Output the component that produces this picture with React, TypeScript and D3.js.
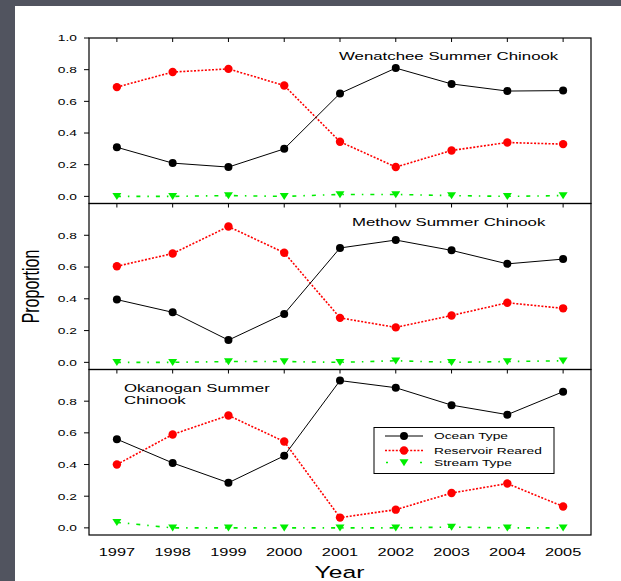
import React from "react";
import * as d3 from "d3";

const years = [1997, 1998, 1999, 2000, 2001, 2002, 2003, 2004, 2005];

const wenOcean = [0.31, 0.21, 0.185, 0.3, 0.65, 0.81, 0.71, 0.665, 0.668];
const wenReservoir = [0.69, 0.785, 0.805, 0.7, 0.345, 0.185, 0.29, 0.34, 0.33];
const wenStream = [0.0, 0.0, 0.005, 0.0, 0.012, 0.012, 0.005, 0.0, 0.005];

const metOcean = [0.395, 0.315, 0.14, 0.305, 0.72, 0.77, 0.705, 0.62, 0.65];
const metReservoir = [0.605, 0.685, 0.855, 0.69, 0.28, 0.22, 0.295, 0.375, 0.34];
const metStream = [0, 0, 0.005, 0.005, 0, 0.01, 0, 0.005, 0.01];

const okaOcean = [0.56, 0.41, 0.285, 0.455, 0.93, 0.885, 0.775, 0.715, 0.86];
const okaReservoir = [0.4, 0.59, 0.71, 0.545, 0.065, 0.115, 0.22, 0.28, 0.135];
const okaStream = [0.035, 0, 0, 0, 0, 0, 0.005, 0, 0];

const panelTitles = [["Wenatchee Summer Chinook"], ["Methow Summer Chinook"], ["Okanogan Summer", "Chinook"]];
const seriesNames = ["Ocean Type", "Reservoir Reared", "Stream Type"];
const yTicksTop = [0, 0.2, 0.4, 0.6, 0.8, 1.0];
const yTicksOther = [0, 0.2, 0.4, 0.6, 0.8];

const panels = [
  { ocean: wenOcean, res: wenReservoir, stream: wenStream, ticks: yTicksTop },
  { ocean: metOcean, res: metReservoir, stream: metStream, ticks: yTicksOther },
  { ocean: okaOcean, res: okaReservoir, stream: okaStream, ticks: yTicksOther },
];

const W = 621;
const H = 581;
const left = 89;
const right = 591;
const bounds = [38, 203.5, 369.5, 535];
const SX = 1.45;
const FONT = "'Liberation Sans', Arial, Helvetica, sans-serif";

const x = d3.scaleLinear().domain([1996.5, 2005.5]).range([left, right]);

function T(props: any) {
  const { x, y, size, anchor, rotate, children } = props;
  return (
    <text
      transform={`translate(${x},${y}) scale(${SX},1)${rotate ? " rotate(-90)" : ""}`}
      fontSize={size}
      fontFamily={FONT}
      textAnchor={anchor || "start"}
      fill="#000"
    >
      {children}
    </text>
  );
}

const tri = (cx: number, cy: number) => `M${cx - 4.5},${cy - 3.3}L${cx + 4.5},${cy - 3.3}L${cx},${cy + 3.7}Z`;

const GREEN = "#00ee00";
const RED = "#ff0000";

export default function App() {
  const titlePos = [
    { x: 339, y: 60 },
    { x: 352, y: 226 },
    { x: 124, y: 391.7 },
  ];
  return (
    <svg width={W} height={H} style={{ position: "absolute", left: 0, top: 0 }}>
      <rect x={0} y={0} width={W} height={H} fill="#51545f" />
      <rect x={15} y={6} width={W - 15} height={H - 6} fill="#ffffff" />
      {panels.map((p, i) => {
        const top = bounds[i];
        const bottom = bounds[i + 1];
        const y = d3.scaleLinear().domain([-0.045, 1.0]).range([bottom, top]);
        const line = d3
          .line<number>()
          .x((_, j) => x(years[j]))
          .y((v) => y(v));
        return (
          <g key={i}>
            {p.ticks.map((t) => (
              <g key={t}>
                <line x1={left - 5} x2={left} y1={y(t)} y2={y(t)} stroke="#000" strokeWidth={1} />
                <T x={77} y={y(t) + 3.4} size={9.5} anchor="end">
                  {d3.format(".1f")(t)}
                </T>
              </g>
            ))}
            {years.map((yr) => (
              <line key={yr} x1={x(yr)} x2={x(yr)} y1={top} y2={top + 4} stroke="#000" strokeWidth={1} />
            ))}
            <path d={line(p.stream) || ""} fill="none" stroke={GREEN} strokeWidth={1.6} strokeDasharray="4,7,1.5,7" />
            <path d={line(p.res) || ""} fill="none" stroke={RED} strokeWidth={1.6} strokeDasharray="2,1.6" />
            <path d={line(p.ocean) || ""} fill="none" stroke="#000" strokeWidth={1} />
            {p.stream.map((v, j) => (
              <path key={"s" + j} d={tri(x(years[j]), y(v))} fill={GREEN} />
            ))}
            {p.res.map((v, j) => (
              <circle key={"r" + j} cx={x(years[j])} cy={y(v)} r={4.2} fill={RED} />
            ))}
            {p.ocean.map((v, j) => (
              <circle key={"o" + j} cx={x(years[j])} cy={y(v)} r={4} fill="#000" />
            ))}
            {panelTitles[i].map((s, k) => (
              <T key={k} x={titlePos[i].x} y={titlePos[i].y + k * 12.5} size={11.6}>
                {s}
              </T>
            ))}
            <rect x={left} y={top} width={right - left} height={bottom - top} fill="none" stroke="#000" strokeWidth={1.2} />
          </g>
        );
      })}
      {years.map((yr) => (
        <T key={yr} x={x(yr)} y={555.5} size={11.3} anchor="middle">
          {String(yr)}
        </T>
      ))}
      <T x={339.5} y={578} size={17} anchor="middle">
        Year
      </T>
      <T x={39} y={286.5} size={16} anchor="middle" rotate>
        Proportion
      </T>
      <g>
        <rect x={374} y={427.5} width={180} height={46} fill="#fff" stroke="#000" strokeWidth={1} />
        <line x1={385} x2={423} y1={436} y2={436} stroke="#000" strokeWidth={1} />
        <circle cx={404} cy={436} r={4} fill="#000" />
        <line x1={385} x2={423} y1={450.5} y2={450.5} stroke={RED} strokeWidth={1.6} strokeDasharray="2,1.6" />
        <circle cx={404} cy={450.5} r={4.2} fill={RED} />
        <line x1={386} x2={388} y1={462.5} y2={462.5} stroke={GREEN} strokeWidth={1.6} />
        <line x1={420} x2={422} y1={462.5} y2={462.5} stroke={GREEN} strokeWidth={1.6} />
        <path d={tri(404, 462.5)} fill={GREEN} />
        {seriesNames.map((s, k) => (
          <T key={s} x={434} y={[436, 450.5, 462.5][k] + 3.4} size={9.5}>
            {s}
          </T>
        ))}
      </g>
    </svg>
  );
}
